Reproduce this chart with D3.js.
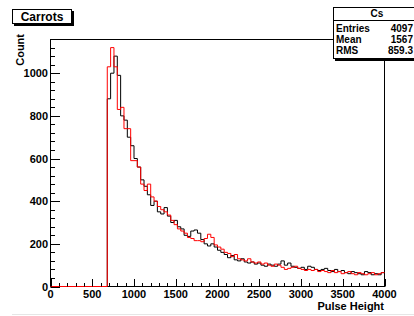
<!DOCTYPE html>
<html>
<head>
<meta charset="utf-8">
<script src="https://cdn.jsdelivr.net/npm/d3@7"></script>
<style>
  body { margin: 0; background: #fff; }
  svg text { font-family: "Liberation Sans", Arial, sans-serif; font-weight: bold; }
</style>
</head>
<body>
<div class="chart"></div>
<script>
// histogram bins: 40 wide, first filled bin starts at 680
const binStart = 680;
const binWidth = 40;
const blackCounts = [880, 1000, 1080, 990, 800, 780, 700, 660, 600, 560, 500, 470, 430, 380, 400, 350, 340, 370, 330, 300,
  310, 280, 270, 240, 235, 260, 265, 250, 220, 200, 190, 200, 185, 170, 160, 150, 135, 145, 125, 120,
  130, 115, 110, 115, 105, 110, 100, 95, 105, 100, 95, 105, 120, 100, 110, 95, 90, 85, 90, 80,
  95, 90, 80, 75, 80, 85, 75, 70, 80, 70, 75, 65, 60, 70, 65, 60, 55, 70, 65, 55,
  60, 55, 65];
const redCounts = [1030, 1120, 1030, 830, 840, 740, 740, 590, 590, 560, 480, 450, 480, 420, 400, 375, 360, 350, 335, 310,
  290, 270, 260, 250, 230, 225, 215, 215, 210, 225, 245, 230, 195, 185, 175, 160, 155, 140, 150, 130,
  125, 120, 130, 115, 110, 115, 105, 110, 100, 95, 105, 100, 90, 80, 85, 90, 95, 85, 80, 75,
  80, 75, 80, 70, 75, 70, 65, 75, 65, 70, 60, 65, 70, 60, 55, 65, 60, 55, 60, 65,
  55, 60, 65];
const xTicks = [0, 500, 1000, 1500, 2000, 2500, 3000, 3500, 4000];
const yTicks = [0, 200, 400, 600, 800, 1000];
const statLabels = ["Entries", "Mean", "RMS"];
const statValues = ["4097", "1567", "859.3"];

const W = 414, H = 316;
const svg = d3.select(".chart").append("svg").attr("width", W).attr("height", H);

const x = d3.scaleLinear().domain([0, 4000]).range([50.5, 384.5]);
const y = d3.scaleLinear().domain([0, 1158]).range([286.5, 39.5]);

// faint canvas edge at the bottom
svg.append("line").attr("x1", 12).attr("x2", W).attr("y1", 314.5).attr("y2", 314.5)
  .attr("stroke", "#e6e6e6");

function stepPoints(counts) {
  const pts = [[0, 0]];
  counts.forEach((c, i) => pts.push([binStart + i * binWidth, c]));
  pts.push([4000, counts[counts.length - 1]]);
  return pts;
}
const line = d3.line().x(d => x(d[0])).y(d => y(d[1])).curve(d3.curveStepAfter);

svg.append("path").attr("d", line(stepPoints(blackCounts)))
  .attr("fill", "none").attr("stroke", "#000").attr("stroke-width", 1);

// frame
svg.append("rect").attr("x", 50.5).attr("y", 39.5).attr("width", 334).attr("height", 247)
  .attr("fill", "none").attr("stroke", "#000");

svg.append("path").attr("d", line(stepPoints(redCounts)))
  .attr("fill", "none").attr("stroke", "#ff0000").attr("stroke-width", 1);

// x axis ticks
const xMinor = d3.range(0, 4001, 100);
svg.append("g").selectAll("line").data(xMinor).join("line")
  .attr("x1", d => Math.round(x(d)) + 0.5).attr("x2", d => Math.round(x(d)) + 0.5)
  .attr("y1", 286.5).attr("y2", d => d % 500 === 0 ? 279 : 283)
  .attr("stroke", "#000");
svg.append("g").selectAll("text").data(xTicks).join("text")
  .attr("x", d => x(d)).attr("y", 298).attr("text-anchor", "middle")
  .attr("font-size", 11).text(d => d);

// y axis ticks
const yMinor = d3.range(0, 1160, 40);
svg.append("g").selectAll("line").data(yMinor).join("line")
  .attr("y1", d => Math.round(y(d)) + 0.5).attr("y2", d => Math.round(y(d)) + 0.5)
  .attr("x1", 50.5).attr("x2", d => d % 200 === 0 ? 60 : 55)
  .attr("stroke", "#000");
svg.append("g").selectAll("text").data(yTicks).join("text")
  .attr("x", 48).attr("y", d => y(d) + 4).attr("text-anchor", "end")
  .attr("font-size", 11).text(d => d);

// axis titles
svg.append("text").attr("x", 384).attr("y", 309.5).attr("text-anchor", "end")
  .attr("font-size", 11).text("Pulse Height");
svg.append("text").attr("transform", "translate(24,34) rotate(-90)")
  .attr("text-anchor", "end").attr("font-size", 11).text("Count");

// title box
svg.append("rect").attr("x", 14).attr("y", 11).attr("width", 60).attr("height", 15).attr("fill", "#000");
svg.append("rect").attr("x", 12.5).attr("y", 9.5).attr("width", 59).attr("height", 14)
  .attr("fill", "#fff").attr("stroke", "#000");
svg.append("text").attr("x", 42).attr("y", 21).attr("text-anchor", "middle")
  .attr("font-size", 12).text("Carrots");

// stats box
const sb = svg.append("g");
sb.append("rect").attr("x", 335).attr("y", 9).attr("width", 82).attr("height", 52).attr("fill", "#000");
sb.append("rect").attr("x", 333.5).attr("y", 7.5).attr("width", 82).attr("height", 51)
  .attr("fill", "#fff").attr("stroke", "#000");
sb.append("line").attr("x1", 333.5).attr("x2", W).attr("y1", 20.5).attr("y2", 20.5).attr("stroke", "#000");
sb.append("text").attr("x", 377).attr("y", 17).attr("text-anchor", "middle")
  .attr("font-size", 10).text("Cs");
sb.selectAll("text.lab").data(statLabels).join("text").attr("class", "lab")
  .attr("x", 336).attr("y", (d, i) => 31.5 + i * 11).attr("font-size", 10).text(d => d);
sb.selectAll("text.val").data(statValues).join("text").attr("class", "val")
  .attr("x", 413).attr("y", (d, i) => 31.5 + i * 11).attr("text-anchor", "end")
  .attr("font-size", 10).text(d => d);
</script>
</body>
</html>
